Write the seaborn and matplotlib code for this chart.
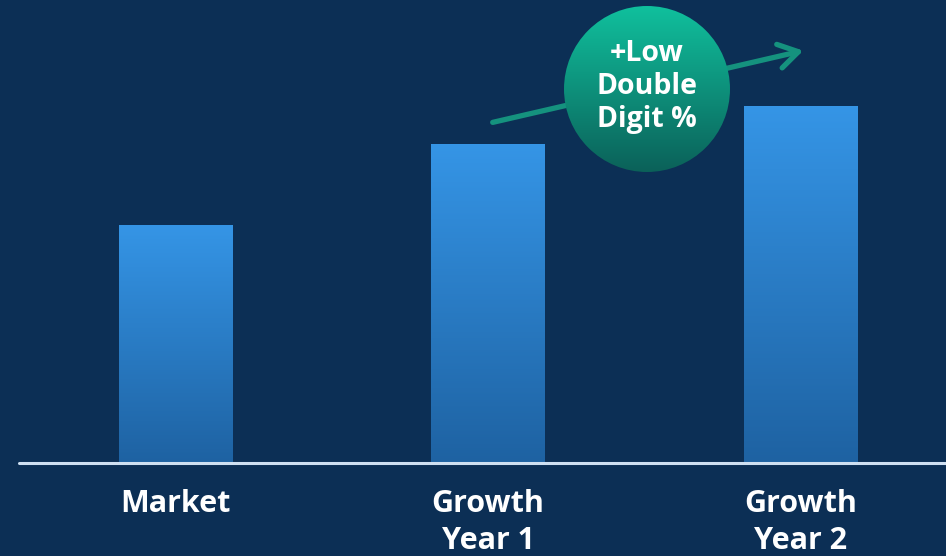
import numpy as np
import pandas as pd
import matplotlib
matplotlib.use("Agg")
import matplotlib.pyplot as plt
import seaborn as sns
from matplotlib.patches import Circle, FancyArrowPatch
from matplotlib.colors import LinearSegmentedColormap

# Chart data
categories = ["Market", "Growth\nYear 1", "Growth\nYear 2"]
values = [100, 134, 150]
callout_text = "+Low\nDouble\nDigit %"

BG = "#0c2f55"
BAR_TOP = "#3595e6"
BAR_BOTTOM = "#1e62a2"
CIRCLE_TOP = "#10c09d"
CIRCLE_BOTTOM = "#0b6159"
ARROW = "#15927e"
FONT = ["Open Sans", "DejaVu Sans"]

sns.set_theme(style="white")
plt.rcParams["font.family"] = FONT

W, H, DPI = 946, 556, 100
fig = plt.figure(figsize=(W / DPI, H / DPI), dpi=DPI, facecolor=BG)

base_px = 463
ax = fig.add_axes([0, (H - base_px) / H, 1, base_px / H])
ax.set_facecolor(BG)

df = pd.DataFrame({"category": categories, "value": values})
sns.barplot(data=df, x="category", y="value", ax=ax, width=0.362,
            color=BAR_TOP, saturation=1, linewidth=0)

# vertical gradient fill inside each bar (bright top, deeper bottom)
bar_cmap = LinearSegmentedColormap.from_list("bar", [BAR_BOTTOM, BAR_TOP])
grad = np.linspace(0, 1, 256).reshape(-1, 1)
for patch in ax.patches:
    x0, y0 = patch.get_x(), patch.get_y()
    w, h = patch.get_width(), patch.get_height()
    im = ax.imshow(grad, cmap=bar_cmap, origin="lower", aspect="auto",
                   extent=[x0, x0 + w, y0, y0 + h], zorder=patch.get_zorder(),
                   vmin=0, vmax=1)
    im.set_clip_path(patch)
    patch.set_facecolor("none")

# horizontal layout: bar spacing 312.5 px, first bar centred at 175.5 px
ax.set_xlim(-175.5 / 312.5, (W - 175.5) / 312.5)
ax.set_ylim(0, base_px * values[0] / 238)

# baseline
ax.axhline(0, xmin=19 / W, xmax=1, color="#cfe0f2", lw=2.2, zorder=5,
           clip_on=False)

for s in ax.spines.values():
    s.set_visible(False)
ax.set_xlabel("")
ax.set_ylabel("")
ax.set_yticks([])
ax.tick_params(axis="x", length=0, pad=19)
ax.set_xticks(range(len(categories)))
ax.set_xticklabels(categories, color="white", fontsize=22,
                   fontweight="bold", linespacing=1.28, va="top")


def fx(px):
    return px / W


def fy(py):
    return 1 - py / H


# growth arrow, passing behind the callout circle
arrow = FancyArrowPatch(
    (fx(490), fy(123)), (fx(806), fy(50)), transform=fig.transFigure,
    arrowstyle="->,head_length=1.0,head_width=0.62", color=ARROW, lw=3.8,
    mutation_scale=14, capstyle="round", joinstyle="round", zorder=6,
    clip_on=False)
ax.add_artist(arrow)

# callout circle with gradient
cx, cy, r = 647, 89, 83
cax = fig.add_axes([fx(cx - r), fy(cy + r), 2 * r / W, 2 * r / H])
cax.set_xlim(-1, 1)
cax.set_ylim(-1, 1)
cax.axis("off")
cax.patch.set_alpha(0)
circ_cmap = LinearSegmentedColormap.from_list("circ", [CIRCLE_BOTTOM, CIRCLE_TOP])
cim = cax.imshow(grad, cmap=circ_cmap, origin="lower", aspect="auto",
                 extent=[-1, 1, -1, 1])
disk = Circle((0, 0), 1, transform=cax.transData, facecolor="none",
              edgecolor="none")
cax.add_patch(disk)
cim.set_clip_path(disk)
cax.text(0, 0.03, callout_text, ha="center", va="center", color="white",
         fontsize=20.5, fontweight="bold", linespacing=1.2)

fig.savefig("out.png", dpi=DPI, facecolor=BG)
